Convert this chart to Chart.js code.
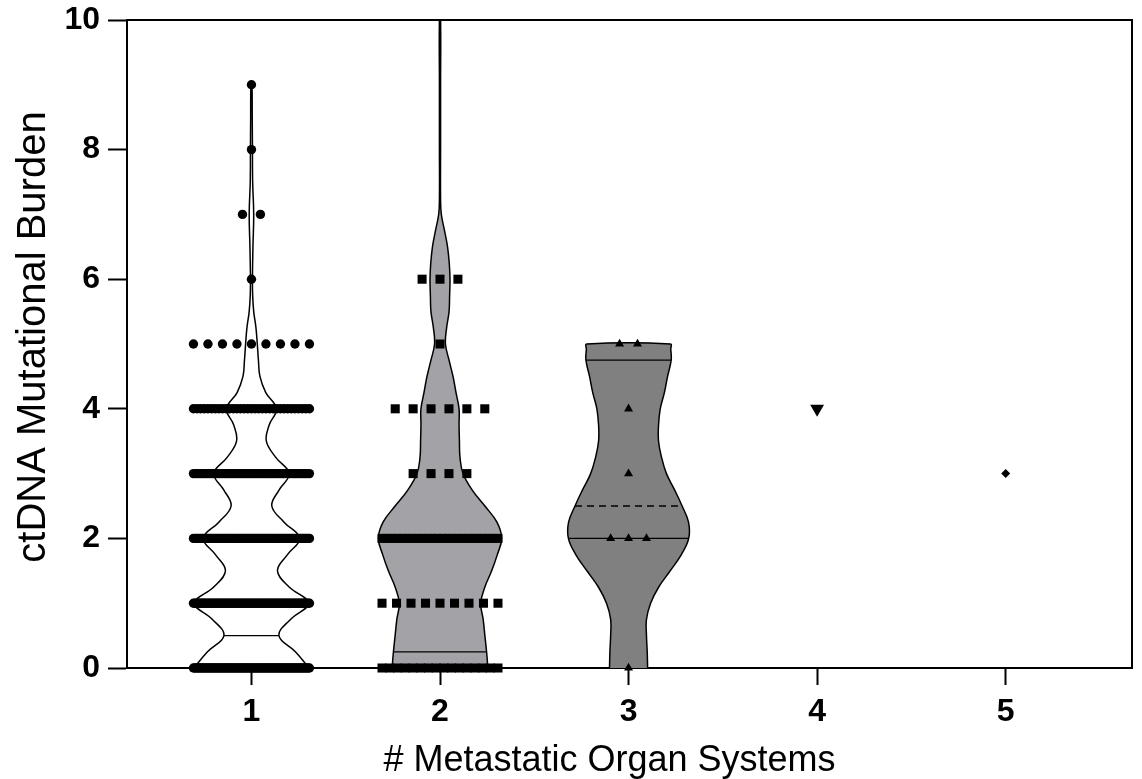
<!DOCTYPE html>
<html>
<head>
<meta charset="utf-8">
<title>ctDNA Mutational Burden</title>
<script src="https://cdn.jsdelivr.net/npm/chart.js@4"></script>
<style>
body{margin:0;background:#fff;}
#wrap{width:1142px;height:779px;}
</style>
</head>
<body>
<div id="wrap"><canvas id="violin"></canvas></div>
<script>
const groups=[1,2,3,4,5];
const yTicks=[0,2,4,6,8,10];
const xTitle='# Metastatic Organ Systems';
const yTitle='ctDNA Mutational Burden';

// observed values per group and how many samples sit on each value
const g1Values=[0,1,2,3,4,5,6,7,8,9];
const g1Counts=[80,78,66,50,33,9,1,2,1,1];
const g2Values=[0,1,2,3,4,5,6];
const g2Counts=[16,9,24,4,6,1,3];
const g3Values=[0,2,3,4,5];
const g3Counts=[1,3,1,1,2];
const g4Values=[4];
const g4Counts=[1];
const g5Values=[3];
const g5Counts=[1];

// violin half widths (x units) at each level
const v1Levels=[0,0.25,0.5,0.75,1,1.25,1.5,1.75,2,2.25,2.5,2.75,3,3.25,3.5,3.75,4,4.25,4.5,4.75,5,5.25,5.5,5.75,6,6.5,7,7.5,8,8.5,9];
const v1Widths=[0.306,0.233,0.146,0.207,0.302,0.2,0.138,0.191,0.256,0.173,0.108,0.147,0.2,0.129,0.079,0.094,0.132,0.076,0.045,0.037,0.031,0.024,0.012,0.0064,0.0053,0.008,0.012,0.0064,0.0053,0.0042,0.0026];
const v2Levels=[0,0.25,0.5,0.75,1,1.25,1.5,1.75,2,2.25,2.5,2.75,3,3.25,3.5,3.75,4,4.25,4.5,4.75,5,5.25,5.5,5.75,6,6.25,6.5,6.75,7,7.25,8,9,10];
const v2Widths=[0.254,0.247,0.238,0.229,0.216,0.238,0.274,0.304,0.327,0.302,0.238,0.17,0.122,0.106,0.103,0.101,0.101,0.085,0.069,0.048,0.029,0.035,0.048,0.051,0.053,0.049,0.04,0.024,0.007,0.003,0.003,0.003,0.003];
const v3Levels=[0,0.25,0.5,0.75,1,1.25,1.5,1.75,2,2.25,2.5,2.75,3,3.25,3.5,3.75,4,4.25,4.5,4.75,4.92,5];
const v3Widths=[0.101,0.099,0.095,0.095,0.117,0.16,0.221,0.28,0.319,0.318,0.284,0.244,0.201,0.175,0.159,0.159,0.168,0.19,0.207,0.226,0.224,0.222];

// quartiles and medians for the three violins
const q1=[0.5,0.25,2];
const medians=[2,2,2.5];
const q3=[3,2,4.75];

const FONT='"Liberation Sans", Arial, sans-serif';
const DOT_STEP=0.095, ROW_SPAN=0.615;

// lay equal values side by side, squeezing rows that get too wide
function swarm(center,values,counts){
  const pts=[];
  values.forEach((v,i)=>{
    const n=counts[i];
    const step=n>1?Math.min(DOT_STEP,ROW_SPAN/(n-1)):0;
    for(let k=0;k<n;k++) pts.push({x:center+(k-(n-1)/2)*step,y:v});
  });
  return pts;
}

// right side going up, left side coming down
function outline(center,levels,widths){
  const right=levels.map((y,i)=>({x:center+widths[i],y}));
  const left=levels.map((y,i)=>({x:center-widths[i],y})).reverse();
  return right.concat(left);
}

function widthAt(levels,widths,y){
  for(let i=0;i<levels.length-1;i++){
    if(y>=levels[i]&&y<=levels[i+1]){
      const t=(y-levels[i])/(levels[i+1]-levels[i]);
      return widths[i]+t*(widths[i+1]-widths[i]);
    }
  }
  return widths[widths.length-1];
}

function hline(center,levels,widths,y,dash){
  const w=widthAt(levels,widths,y);
  return {data:[{x:center-w,y},{x:center+w,y}],showLine:true,pointRadius:0,
    borderColor:'#000',borderWidth:dash?1.5:1.2,borderDash:dash?[7,5]:[],order:2};
}

function dots(center,values,counts,style,radius,rotation){
  return {data:swarm(center,values,counts),pointStyle:style,pointRadius:radius,
    rotation:rotation||0,backgroundColor:'#000',borderWidth:0,clip:false,order:1};
}

function violin(center,levels,widths,fill){
  return {data:outline(center,levels,widths),showLine:true,pointRadius:0,
    borderColor:'#000',borderWidth:1.5,backgroundColor:fill,fill:'shape',tension:0.4,order:3};
}

const violins=[
  [v1Levels,v1Widths,'#ffffff'],
  [v2Levels,v2Widths,'#a3a3a7'],
  [v3Levels,v3Widths,'#808080']
];

const datasets=[
  dots(groups[0],g1Values,g1Counts,'circle',4.7),
  dots(groups[1],g2Values,g2Counts,'rect',6.4),
  dots(groups[2],g3Values,g3Counts,'triangle',5.2),
  dots(groups[3],g4Values,g4Counts,'triangle',8,180),
  dots(groups[4],g5Values,g5Counts,'rectRot',4.5)
];
violins.forEach((v,i)=>{
  datasets.push(violin(groups[i],v[0],v[1],v[2]));
  datasets.push(hline(groups[i],v[0],v[1],q1[i],false));
  datasets.push(hline(groups[i],v[0],v[1],q3[i],false));
  datasets.push(hline(groups[i],v[0],v[1],medians[i],true));
});

// closes the box on the top and right
const frame={
  id:'frame',
  afterDatasetsDraw(chart){
    const {ctx,chartArea:a}=chart;
    ctx.save();
    ctx.strokeStyle='#000';
    ctx.lineWidth=2;
    ctx.beginPath();
    ctx.moveTo(a.left-1,a.top);
    ctx.lineTo(a.right,a.top);
    ctx.lineTo(a.right,a.bottom+1);
    ctx.stroke();
    ctx.restore();
  }
};

// axis titles
const titles={
  id:'titles',
  afterDraw(chart){
    const {ctx,chartArea:a}=chart;
    ctx.save();
    ctx.fillStyle='#000';
    ctx.textAlign='center';
    ctx.textBaseline='middle';
    ctx.font='36px '+FONT;
    ctx.fillText(xTitle,(a.left+a.right)/2-20,761);
    ctx.translate(34,(a.top+a.bottom)/2-7);
    ctx.rotate(-Math.PI/2);
    ctx.font='40px '+FONT;
    ctx.fillText(yTitle,0,0);
    ctx.restore();
  }
};

new Chart(document.getElementById('violin'),{
  type:'scatter',
  data:{datasets},
  options:{
    responsive:true,
    maintainAspectRatio:false,
    devicePixelRatio:1,
    animation:false,
    events:[],
    layout:{padding:{top:20,right:10,left:0,bottom:0}},
    plugins:{legend:{display:false},tooltip:{enabled:false}},
    scales:{
      x:{
        type:'linear',min:0.34,max:5.67,
        afterBuildTicks:s=>{s.ticks=groups.map(v=>({value:v}));},
        afterFit:s=>{s.height=111;s.paddingLeft=0;s.paddingRight=0;},
        grid:{drawOnChartArea:false,tickLength:17,tickWidth:2,tickColor:'#000'},
        border:{display:true,width:2,color:'#000'},
        ticks:{color:'#000',padding:8,font:{family:FONT,size:32,weight:'bold'}}
      },
      y:{
        min:0,max:10,
        afterBuildTicks:s=>{s.ticks=yTicks.map(v=>({value:v}));},
        afterFit:s=>{s.width=127;s.paddingTop=0;s.paddingBottom=0;},
        grid:{drawOnChartArea:false,tickLength:19,tickWidth:2,tickColor:'#000'},
        border:{display:true,width:2,color:'#000'},
        ticks:{color:'#000',padding:8,font:{family:FONT,size:32,weight:'bold'}}
      }
    }
  },
  plugins:[frame,titles]
});
</script>
</body>
</html>
